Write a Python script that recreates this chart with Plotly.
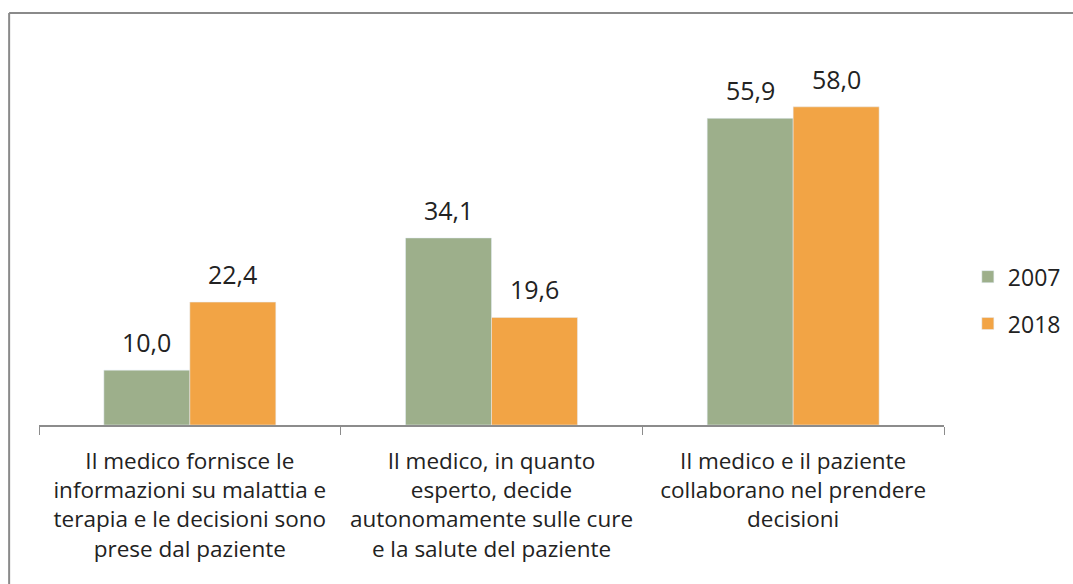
import plotly.graph_objects as go

#--- dati
categorie = [
    "Il medico fornisce le<br>informazioni su malattia e<br>terapia e le decisioni sono<br>prese dal paziente",
    "Il medico, in quanto<br>esperto, decide<br>autonomamente sulle cure<br>e la salute del paziente",
    "Il medico e il paziente<br>collaborano nel prendere<br>decisioni",
]
anni = ["2007", "2018"]
valori_2007 = [10.0, 34.1, 55.9]
valori_2018 = [22.4, 19.6, 58.0]

verde = '#9DAF8B'
arancio = '#F2A445'
font_txt = "Open Sans"

#--- grafico
fig = go.Figure()
fig.add_trace(go.Bar(x=categorie, y=valori_2007, name=anni[0], marker_color=verde, legendgroup="a"))
fig.add_trace(go.Bar(x=categorie, y=valori_2018, name=anni[1], marker_color=arancio, legendgroup="b"))

# etichette dei valori sopra le barre (virgola come separatore decimale)
for serie, spost in [(valori_2007, -43), (valori_2018, 43)]:
    for cat, val in zip(categorie, serie):
        fig.add_annotation(x=cat, y=val, text=f"{val:.1f}".replace('.', ','),
                           showarrow=False, yanchor='bottom', xshift=spost, yshift=9,
                           font=dict(size=25, color='#222222'))

fig.update_layout(
    width=1073, height=584,
    margin=dict(l=39, r=129, t=41, b=159),
    plot_bgcolor='white', paper_bgcolor='white',
    bargap=0.43, bargroupgap=0,
    font=dict(family=font_txt, size=22.5, color='#222222'),
    legend=dict(xref='container', yref='container', x=0.902, y=0.486,
                yanchor='middle', xanchor='left',
                font=dict(size=23), tracegroupgap=14, traceorder='grouped'),
    showlegend=True,
)
fig.update_xaxes(showline=True, linecolor='#8c8c8c', linewidth=1.5,
                 ticks='outside', tickson='boundaries', ticklen=8, tickcolor='#8c8c8c',
                 ticklabelstandoff=15, tickfont=dict(size=22.5, color='#222222'))
fig.update_yaxes(range=[0, 70], visible=False)

# cornice del grafico (solo bordo sinistro e superiore visibili)
fig.add_shape(type='line', xref='paper', yref='paper', x0=-0.033, x1=1.2, y0=1.073, y1=1.073,
              line=dict(color='#8a8a8a', width=2))
fig.add_shape(type='line', xref='paper', yref='paper', x0=-0.033, x1=-0.033, y0=1.073, y1=-0.5,
              line=dict(color='#8a8a8a', width=2))

fig.write_html("out.html", config={'displayModeBar': False},
               post_script="document.body.style.margin='0';document.body.style.overflow='hidden';")
